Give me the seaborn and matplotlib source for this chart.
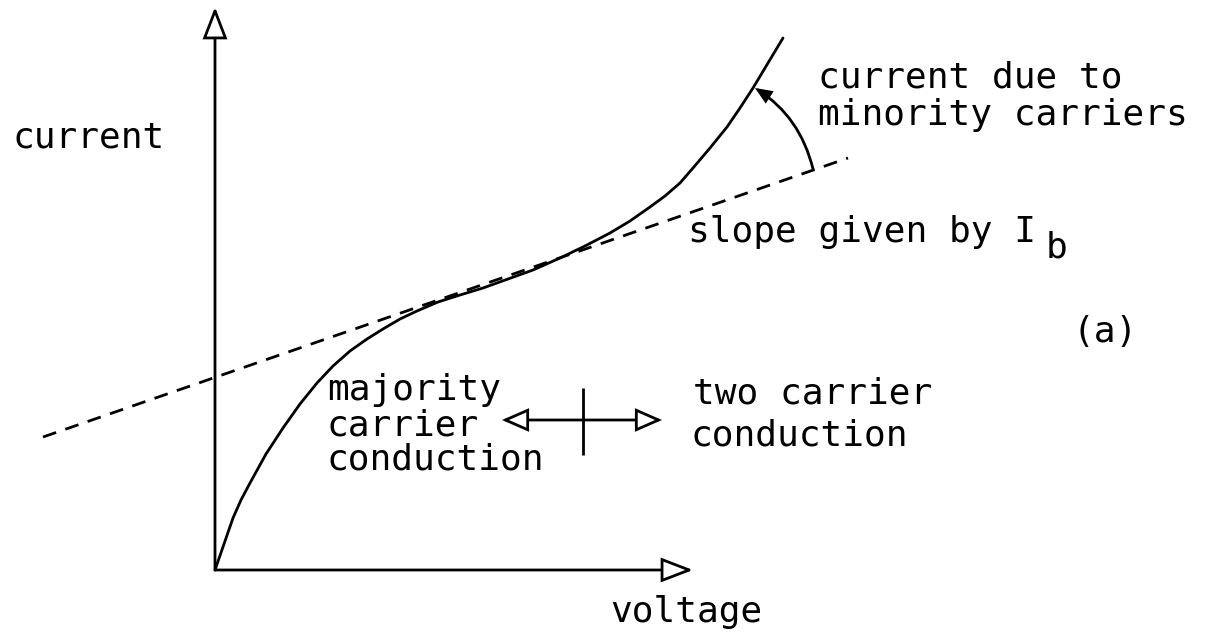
import matplotlib
matplotlib.use("Agg")
import matplotlib.pyplot as plt
from matplotlib.patches import FancyArrowPatch
import seaborn as sns

# Current-voltage characteristic (arbitrary units, origin at the axes corner)
voltage = [0, 9, 18, 26, 35, 51, 68, 85, 102, 118,
           135, 152, 168, 185, 202, 223, 245, 268, 293, 318,
           345, 370, 395, 415, 435, 450, 465, 478, 495, 512,
           525, 538, 553, 568]
current = [0, 26, 52, 70, 87, 116, 142, 166, 187, 204,
           219, 231, 241, 251, 259, 268, 275, 282, 291, 300,
           312, 324, 337, 349, 363, 374, 387, 402, 422, 443,
           462, 482, 507, 532]

# Tangent line whose slope is given by I_b
tangent_voltage = [-172, 633]
tangent_current = [133, 412]

# Layout of the axes and the schematic arrows (same units as the data)
X_AXIS_END = 478
Y_AXIS_END = 563
REGION_Y = 150
REGION_LEFT, REGION_RIGHT = 287, 447
REGION_SPLIT = 368
SPLIT_SPAN = (115, 182)
ARC_START = (598, 401)
ARC_END = (540, 482)

sns.set_theme(style="white")
plt.rcParams["font.family"] = ["DejaVu Sans Mono", "DejaVu Sans"]
FS = 26
LW = 2.0

fig = plt.figure(figsize=(12.15, 6.33), dpi=100)
ax = fig.add_axes([0, 0, 1, 1])
ax.set_xlim(-215, 1000)
ax.set_ylim(-63, 570)
ax.axis("off")

sns.lineplot(x=voltage, y=current, ax=ax, color="black", linewidth=LW,
             sort=False, estimator=None, solid_joinstyle="round")
sns.lineplot(x=tangent_voltage, y=tangent_current, ax=ax, color="black",
             linewidth=LW, linestyle=(0, (5, 3.5)), sort=False, estimator=None)


def arrow(p0, p1, style, fc, **kw):
    ax.add_patch(FancyArrowPatch(p0, p1, arrowstyle=style, mutation_scale=1,
                                 lw=LW, ec="black", fc=fc, shrinkA=0, shrinkB=0,
                                 joinstyle="miter", **kw))


# Axes with open triangular heads
arrow((0, 0), (X_AXIS_END, 0), "-|>,head_length=19.5,head_width=7.5", "white")
arrow((0, 0), (0, Y_AXIS_END), "-|>,head_length=19.5,head_width=7.5", "white")

# Conduction-regime double arrow with its dividing mark
arrow((REGION_LEFT, REGION_Y), (REGION_RIGHT, REGION_Y),
      "<|-|>,head_length=16,head_width=7", "white")
ax.plot([REGION_SPLIT, REGION_SPLIT], SPLIT_SPAN, color="black", lw=LW,
        solid_capstyle="butt")

# Arc marking the excess current due to minority carriers
arrow(ARC_START, ARC_END, "-|>,head_length=9,head_width=3.8", "black",
      connectionstyle="arc3,rad=0.2")

txt = dict(fontsize=FS, color="black", ha="left", va="baseline")
ax.text(-203, 423, "current", **txt)
ax.text(395, -52, "voltage", **txt)
ax.text(603, 482, "current due to", **txt)
ax.text(603, 445, "minority carriers", **txt)
ax.text(473, 328, "slope given by I", **txt)
ax.text(831, 313, "b", **txt)
ax.text(857, 228, "(a)", **txt)
ax.text(112, 170, "majority", **txt)
ax.text(112, 135, "carrier", **txt)
ax.text(112, 101, "conduction", **txt)
ax.text(478, 167, "two carrier", **txt)
ax.text(475, 125, "conduction", **txt)

fig.savefig("out.png", dpi=100, facecolor="white")
